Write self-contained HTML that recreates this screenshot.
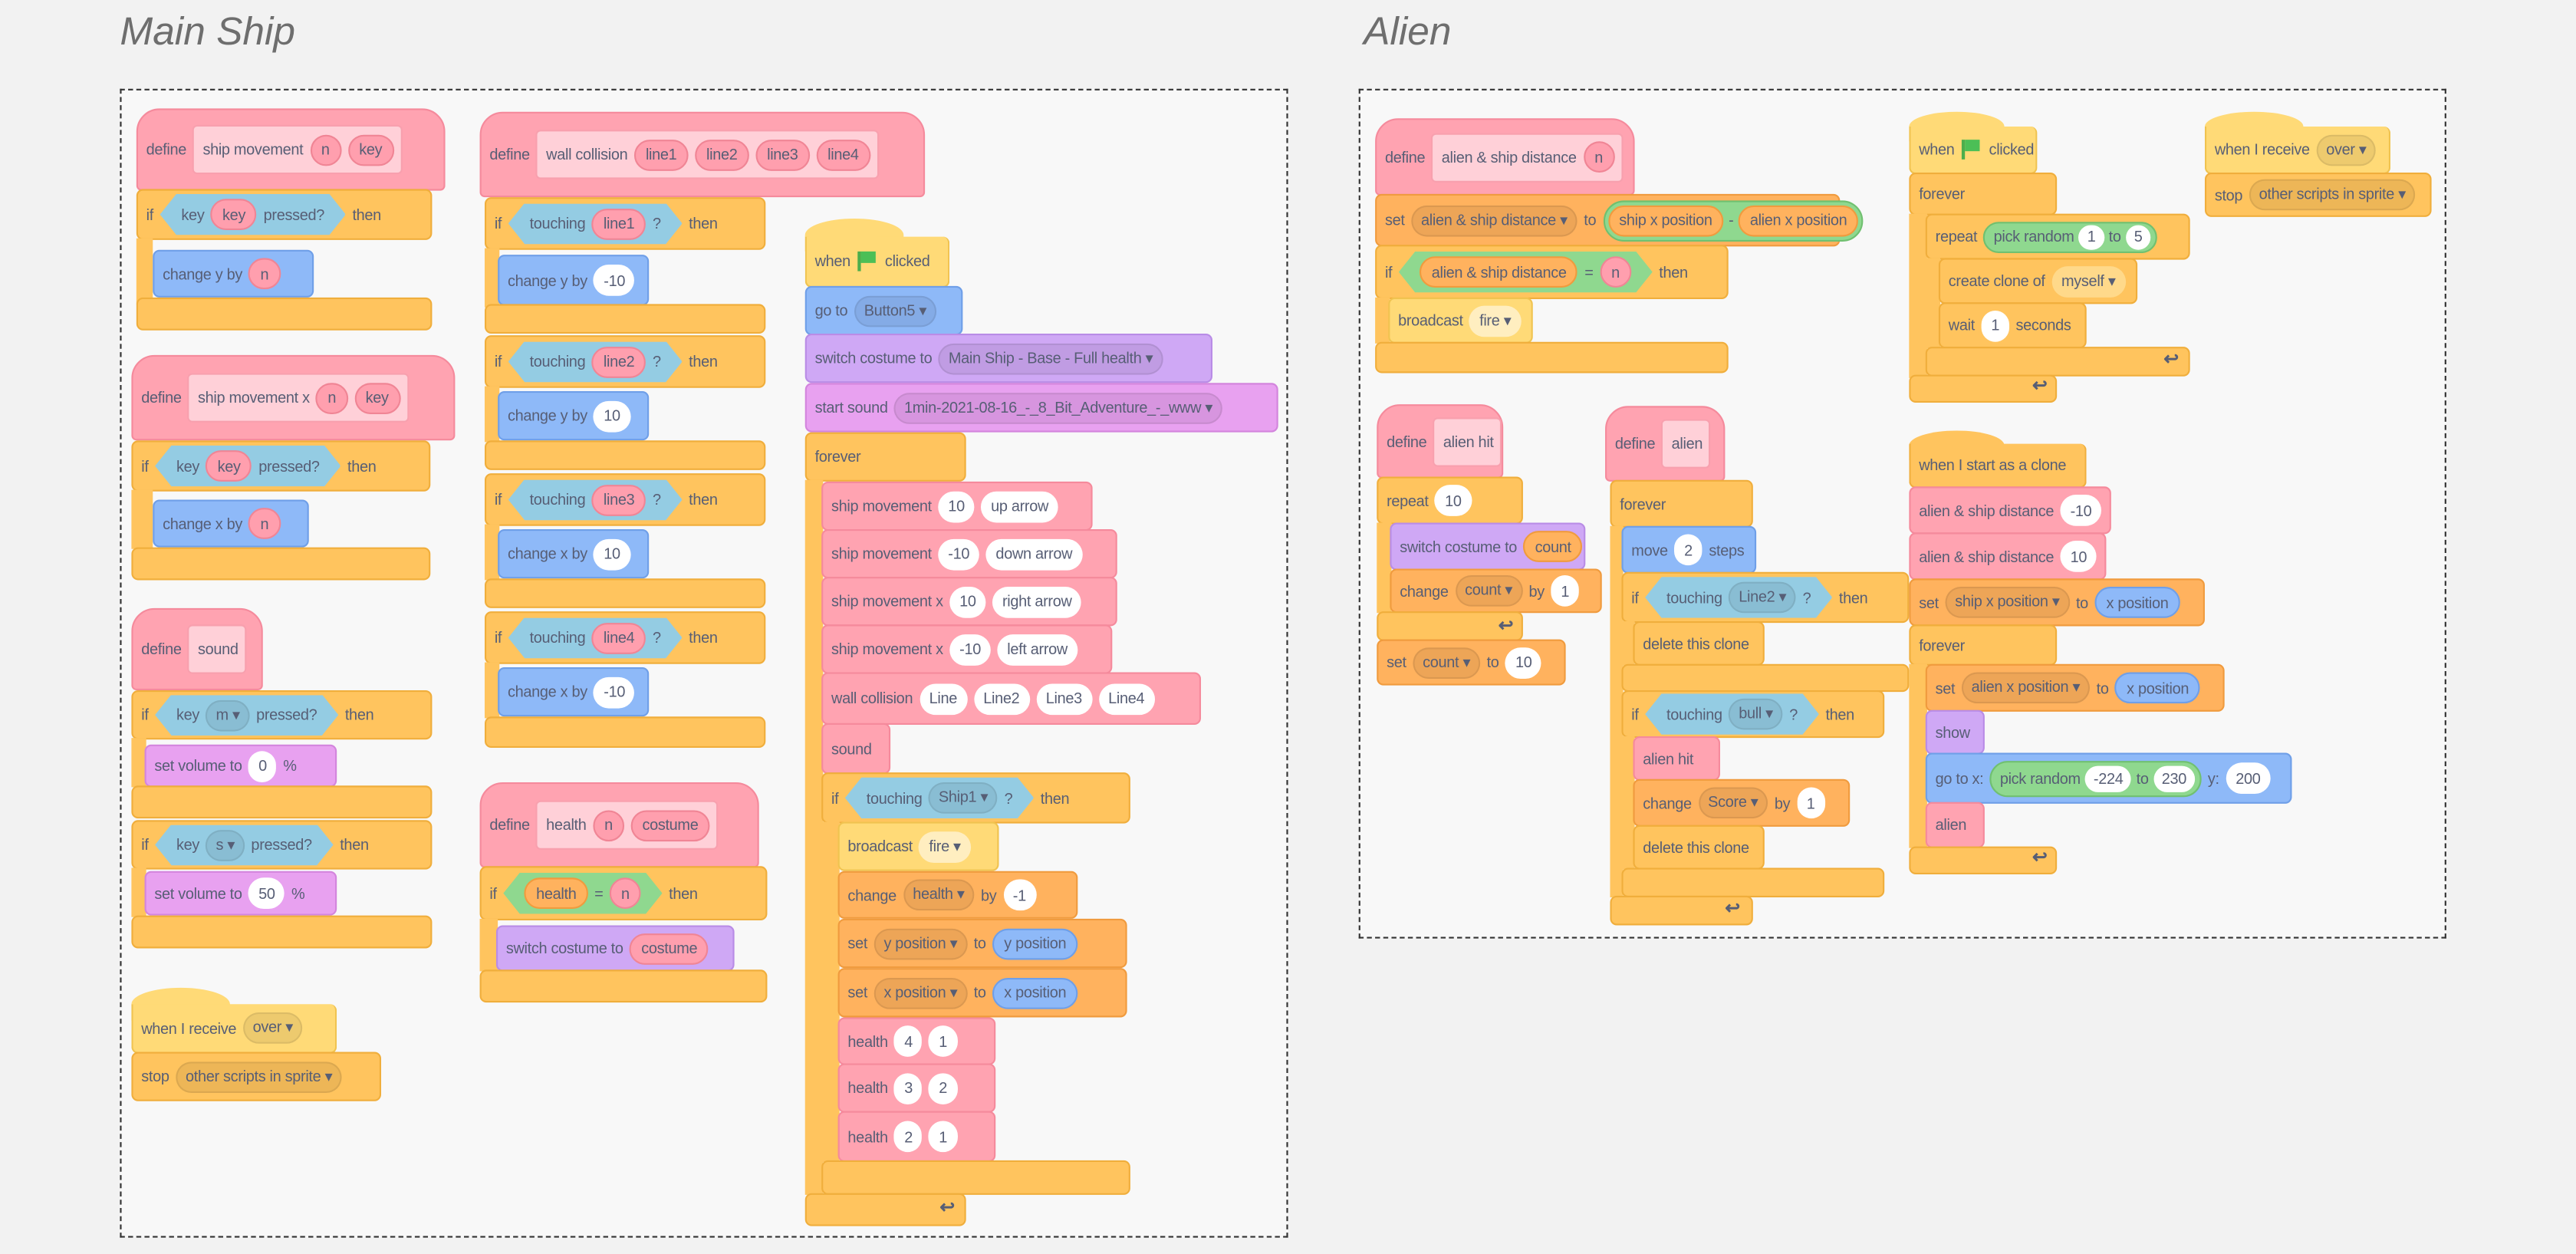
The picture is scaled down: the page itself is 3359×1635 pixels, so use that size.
<!DOCTYPE html>
<html><head><meta charset="utf-8"><style>
html,body{margin:0;padding:0;background:#f2f2f2;}
body{width:3359px;height:1635px;overflow:hidden;position:relative;}
#w{position:absolute;left:0;top:0;width:1568px;height:763px;transform:scale(2.1423,2.1429);transform-origin:0 0;font-family:"Liberation Sans",sans-serif;}
.t{position:absolute;font-style:italic;font-size:24px;color:#6e6e6e;top:6px;}
.box{position:absolute;border:1px dashed #333;background:#f8f8f8;box-sizing:border-box;}
.b{position:absolute;box-sizing:border-box;display:flex;align-items:center;gap:4px;padding-left:5px;font-size:9.3px;letter-spacing:-0.15px;color:#575e75;border-radius:4px;border:1px solid;white-space:nowrap;}
.arm{position:absolute;box-sizing:border-box;}
.p{display:inline-flex;align-items:center;height:19px;border-radius:10px;padding:0 6px;box-sizing:border-box;}
.w{background:#fff;color:#575e75;}
.a{background:#ff9fae;border:1px solid #f08595;}
.d{background:rgba(0,0,0,.07);border:1px solid rgba(0,0,0,.08);padding:0 5px;}
.dv{background:#ffb25e;border:1px solid #f09b3e;}
.ib{display:inline-flex;align-items:center;gap:4px;background:#ffd0d8;border:1px solid #f8a0ae;height:30px;padding:0 4px 0 5px;box-sizing:border-box;border-radius:3px;}
.hx{display:inline-flex;align-items:center;gap:4px;height:25px;padding:0 13px;background:#94cce3;clip-path:polygon(10px 0,calc(100% - 10px) 0,100% 50%,calc(100% - 10px) 100%,10px 100%,0 50%);}
.hg{background:#8fd88f;}
.ctrl{background:#ffc45e;border-color:#f0ae3c;}
.def{background:#ffa3b1;border-color:#f58a9c;border-radius:14px 14px 3px 3px;}
.cus{background:#ffa3b1;border-color:#f58a9c;}
.mot{background:#8eb9f8;border-color:#6f9fe8;}
.lok{background:#cfa8f5;border-color:#b98ce6;}
.snd{background:#e8a1f0;border-color:#d385dd;}
.evt{background:#ffda77;border-color:#f0c350;}
.var{background:#ffb25e;border-color:#f09b3e;}
.cap{position:absolute;border-radius:50% 50% 0 0;}
.ar{position:absolute;font-size:11px;font-weight:bold;color:#575e75;}
.flag{display:inline-block;width:11px;height:12px;border-left:2px solid #4cae4c;position:relative;}
.flag:after{content:"";position:absolute;left:0;top:0;width:9px;height:7px;background:#4cbf56;}
</style></head><body><div id="w">
<div class="t" style="left:73px">Main Ship</div>
<div class="t" style="left:830px">Alien</div>
<div class="box" style="left:73px;top:54px;width:711px;height:699px"></div>
<div class="box" style="left:827px;top:54px;width:662px;height:517px"></div>

<!-- Main col 1 -->
<div class="b def" style="left:83px;top:66px;width:188px;height:50px">define <span class="ib">ship movement <span class="p a">n</span><span class="p a">key</span></span></div>
<div class="b ctrl" style="left:83px;top:115px;width:180px;height:31px">if <span class="hx">key <span class="p a">key</span> pressed?</span> then</div>
<div class="arm ctrl" style="left:83px;top:145px;width:10px;height:40px"></div>
<div class="b mot" style="left:93px;top:152px;width:98px;height:29px">change y by <span class="p a">n</span></div>
<div class="b ctrl" style="left:83px;top:181px;width:180px;height:20px"></div>

<div class="b def" style="left:80px;top:216px;width:197px;height:52px">define <span class="ib">ship movement x <span class="p a">n</span><span class="p a">key</span></span></div>
<div class="b ctrl" style="left:80px;top:268px;width:182px;height:31px">if <span class="hx">key <span class="p a">key</span> pressed?</span> then</div>
<div class="arm ctrl" style="left:80px;top:298px;width:13px;height:36px"></div>
<div class="b mot" style="left:93px;top:304px;width:95px;height:29px">change x by <span class="p a">n</span></div>
<div class="b ctrl" style="left:80px;top:333px;width:182px;height:20px"></div>

<div class="b def" style="left:80px;top:370px;width:80px;height:50px">define <span class="ib">sound</span></div>
<div class="b ctrl" style="left:80px;top:420px;width:183px;height:30px">if <span class="hx">key <span class="p d">m ▾</span> pressed?</span> then</div>
<div class="arm ctrl" style="left:80px;top:449px;width:9px;height:30px"></div>
<div class="b snd" style="left:88px;top:453px;width:117px;height:26px">set volume to <span class="p w">0</span> %</div>
<div class="b ctrl" style="left:80px;top:478px;width:183px;height:20px"></div>
<div class="b ctrl" style="left:80px;top:499px;width:183px;height:30px">if <span class="hx">key <span class="p d">s ▾</span> pressed?</span> then</div>
<div class="arm ctrl" style="left:80px;top:528px;width:9px;height:30px"></div>
<div class="b snd" style="left:88px;top:530px;width:117px;height:27px">set volume to <span class="p w">50</span> %</div>
<div class="b ctrl" style="left:80px;top:557px;width:183px;height:20px"></div>

<div class="cap evt" style="left:80px;top:601px;width:60px;height:20px"></div>
<div class="b evt" style="left:80px;top:611px;width:125px;height:30px;border-top:none;border-radius:0 4px 4px 4px">when I receive <span class="p d">over ▾</span></div>
<div class="b ctrl" style="left:80px;top:640px;width:152px;height:30px">stop <span class="p d">other scripts in sprite ▾</span></div>

<!-- Main col 2 -->
<div class="b def" style="left:292px;top:68px;width:271px;height:52px">define <span class="ib">wall collision <span class="p a">line1</span><span class="p a">line2</span><span class="p a">line3</span><span class="p a">line4</span></span></div>
<div class="b ctrl" style="left:295px;top:120px;width:171px;height:32px">if <span class="hx">touching <span class="p a">line1</span> ?</span> then</div>
<div class="arm ctrl" style="left:295px;top:151px;width:9px;height:36px"></div>
<div class="b mot" style="left:303px;top:155px;width:92px;height:31px">change y by <span class="p w">-10</span></div>
<div class="b ctrl" style="left:295px;top:185px;width:171px;height:18px"></div>
<div class="b ctrl" style="left:295px;top:204px;width:171px;height:32px">if <span class="hx">touching <span class="p a">line2</span> ?</span> then</div>
<div class="arm ctrl" style="left:295px;top:235px;width:9px;height:34px"></div>
<div class="b mot" style="left:303px;top:238px;width:92px;height:30px">change y by <span class="p w">10</span></div>
<div class="b ctrl" style="left:295px;top:268px;width:171px;height:18px"></div>
<div class="b ctrl" style="left:295px;top:288px;width:171px;height:32px">if <span class="hx">touching <span class="p a">line3</span> ?</span> then</div>
<div class="arm ctrl" style="left:295px;top:319px;width:9px;height:34px"></div>
<div class="b mot" style="left:303px;top:322px;width:92px;height:30px">change x by <span class="p w">10</span></div>
<div class="b ctrl" style="left:295px;top:352px;width:171px;height:18px"></div>
<div class="b ctrl" style="left:295px;top:372px;width:171px;height:32px">if <span class="hx">touching <span class="p a">line4</span> ?</span> then</div>
<div class="arm ctrl" style="left:295px;top:403px;width:9px;height:34px"></div>
<div class="b mot" style="left:303px;top:406px;width:92px;height:30px">change x by <span class="p w">-10</span></div>
<div class="b ctrl" style="left:295px;top:436px;width:171px;height:19px"></div>

<div class="b def" style="left:292px;top:476px;width:170px;height:52px">define <span class="ib">health <span class="p a">n</span><span class="p a">costume</span></span></div>
<div class="b ctrl" style="left:292px;top:527px;width:175px;height:33px">if <span class="hx hg"><span class="p dv">health</span> = <span class="p a">n</span></span> then</div>
<div class="arm ctrl" style="left:292px;top:559px;width:11px;height:32px"></div>
<div class="b lok" style="left:302px;top:563px;width:145px;height:28px">switch costume to <span class="p a">costume</span></div>
<div class="b ctrl" style="left:292px;top:590px;width:175px;height:20px"></div>

<!-- Main col 3 -->
<div class="cap evt" style="left:490px;top:133px;width:60px;height:20px"></div>
<div class="b evt" style="left:490px;top:144px;width:88px;height:31px;border-top:none;border-radius:0 4px 4px 4px">when <span class="flag"></span> clicked</div>
<div class="b mot" style="left:490px;top:174px;width:96px;height:30px">go to <span class="p d">Button5 ▾</span></div>
<div class="b lok" style="left:490px;top:203px;width:248px;height:30px">switch costume to <span class="p d">Main Ship - Base - Full health ▾</span></div>
<div class="b snd" style="left:490px;top:233px;width:288px;height:30px">start sound <span class="p d">1min-2021-08-16_-_8_Bit_Adventure_-_www ▾</span></div>
<div class="b ctrl" style="left:490px;top:263px;width:98px;height:30px">forever</div>
<div class="arm ctrl" style="left:490px;top:292px;width:11px;height:435px"></div>
<div class="b cus" style="left:500px;top:293px;width:165px;height:30px">ship movement <span class="p w">10</span><span class="p w">up arrow</span></div>
<div class="b cus" style="left:500px;top:322px;width:180px;height:30px">ship movement <span class="p w">-10</span><span class="p w">down arrow</span></div>
<div class="b cus" style="left:500px;top:351px;width:180px;height:30px">ship movement x <span class="p w">10</span><span class="p w">right arrow</span></div>
<div class="b cus" style="left:500px;top:380px;width:177px;height:30px">ship movement x <span class="p w">-10</span><span class="p w">left arrow</span></div>
<div class="b cus" style="left:500px;top:409px;width:231px;height:32px">wall collision <span class="p w">Line</span><span class="p w">Line2</span><span class="p w">Line3</span><span class="p w">Line4</span></div>
<div class="b cus" style="left:500px;top:440px;width:42px;height:31px">sound</div>
<div class="b ctrl" style="left:500px;top:470px;width:188px;height:31px">if <span class="hx">touching <span class="p d">Ship1 ▾</span> ?</span> then</div>
<div class="arm ctrl" style="left:500px;top:500px;width:11px;height:207px"></div>
<div class="b evt" style="left:510px;top:500px;width:98px;height:30px">broadcast <span class="p" style="background:#ffeec0">fire ▾</span></div>
<div class="b var" style="left:510px;top:530px;width:146px;height:29px">change <span class="p d">health ▾</span> by <span class="p w">-1</span></div>
<div class="b var" style="left:510px;top:559px;width:176px;height:30px">set <span class="p d">y position ▾</span> to <span class="p mot" style="border:1px solid #6f9fe8">y position</span></div>
<div class="b var" style="left:510px;top:589px;width:176px;height:30px">set <span class="p d">x position ▾</span> to <span class="p mot" style="border:1px solid #6f9fe8">x position</span></div>
<div class="b cus" style="left:510px;top:619px;width:96px;height:29px">health <span class="p w">4</span><span class="p w">1</span></div>
<div class="b cus" style="left:510px;top:647px;width:96px;height:30px">health <span class="p w">3</span><span class="p w">2</span></div>
<div class="b cus" style="left:510px;top:676px;width:96px;height:31px">health <span class="p w">2</span><span class="p w">1</span></div>
<div class="b ctrl" style="left:500px;top:706px;width:188px;height:21px"></div>
<div class="b ctrl" style="left:490px;top:726px;width:98px;height:20px"></div>
<div class="ar" style="left:572px;top:728px">↩</div>

<!-- Alien col 1 -->
<div class="b def" style="left:837px;top:72px;width:158px;height:47px">define <span class="ib">alien &amp; ship distance <span class="p a">n</span></span></div>
<div class="b var" style="left:837px;top:118px;width:283px;height:32px">set <span class="p d">alien &amp; ship distance ▾</span> to <span class="p" style="background:#8fd88f;border:1px solid #70c070;height:25px;padding:0 2px;gap:3px;border-radius:13px"><span class="p dv">ship x position</span>-<span class="p dv">alien x position</span></span></div>
<div class="b ctrl" style="left:837px;top:149px;width:215px;height:33px">if <span class="hx hg"><span class="p dv">alien &amp; ship distance</span> = <span class="p a">n</span></span> then</div>
<div class="arm ctrl" style="left:837px;top:181px;width:9px;height:28px"></div>
<div class="b evt" style="left:845px;top:181px;width:88px;height:28px">broadcast <span class="p" style="background:#ffeec0">fire ▾</span></div>
<div class="b ctrl" style="left:837px;top:208px;width:215px;height:19px"></div>

<div class="b def" style="left:838px;top:246px;width:77px;height:45px">define <span class="ib">alien hit</span></div>
<div class="b ctrl" style="left:838px;top:290px;width:89px;height:29px">repeat <span class="p w">10</span></div>
<div class="arm ctrl" style="left:838px;top:318px;width:9px;height:55px"></div>
<div class="b lok" style="left:846px;top:318px;width:119px;height:29px">switch costume to <span class="p dv">count</span></div>
<div class="b var" style="left:846px;top:346px;width:129px;height:27px">change <span class="p d">count ▾</span> by <span class="p w">1</span></div>
<div class="b ctrl" style="left:838px;top:372px;width:89px;height:18px"></div>
<div class="ar" style="left:912px;top:374px">↩</div>
<div class="b var" style="left:838px;top:389px;width:115px;height:28px">set <span class="p d">count ▾</span> to <span class="p w">10</span></div>

<!-- Alien col 2 -->
<div class="b def" style="left:977px;top:247px;width:73px;height:46px">define <span class="ib">alien</span></div>
<div class="b ctrl" style="left:980px;top:292px;width:87px;height:29px">forever</div>
<div class="arm ctrl" style="left:980px;top:320px;width:8px;height:226px"></div>
<div class="b mot" style="left:987px;top:320px;width:82px;height:29px">move <span class="p w">2</span> steps</div>
<div class="b ctrl" style="left:987px;top:348px;width:175px;height:31px">if <span class="hx">touching <span class="p d">Line2 ▾</span> ?</span> then</div>
<div class="arm ctrl" style="left:987px;top:378px;width:8px;height:27px"></div>
<div class="b ctrl" style="left:994px;top:378px;width:80px;height:27px">delete this clone</div>
<div class="b ctrl" style="left:987px;top:404px;width:175px;height:17px"></div>
<div class="b ctrl" style="left:987px;top:420px;width:160px;height:29px">if <span class="hx">touching <span class="p d">bull ▾</span> ?</span> then</div>
<div class="arm ctrl" style="left:987px;top:448px;width:8px;height:81px"></div>
<div class="b cus" style="left:994px;top:448px;width:53px;height:27px">alien hit</div>
<div class="b var" style="left:994px;top:474px;width:132px;height:29px">change <span class="p d">Score ▾</span> by <span class="p w">1</span></div>
<div class="b ctrl" style="left:994px;top:502px;width:80px;height:27px">delete this clone</div>
<div class="b ctrl" style="left:987px;top:528px;width:160px;height:18px"></div>
<div class="b ctrl" style="left:980px;top:545px;width:87px;height:18px"></div>
<div class="ar" style="left:1050px;top:546px">↩</div>

<!-- Alien col 3 -->
<div class="cap evt" style="left:1162px;top:68px;width:58px;height:18px"></div>
<div class="b evt" style="left:1162px;top:77px;width:78px;height:29px;border-top:none;border-radius:0 4px 4px 4px">when <span class="flag"></span> clicked</div>
<div class="b ctrl" style="left:1162px;top:105px;width:90px;height:26px">forever</div>
<div class="arm ctrl" style="left:1162px;top:130px;width:11px;height:100px"></div>
<div class="b ctrl" style="left:1172px;top:130px;width:161px;height:28px">repeat <span class="p" style="background:#8fd88f;border:1px solid #70c070;gap:3px;padding:0 3px 0 5px">pick random <span class="p w" style="height:15px;padding:0 5px">1</span> to <span class="p w" style="height:15px;padding:0 5px">5</span></span></div>
<div class="arm ctrl" style="left:1172px;top:157px;width:9px;height:55px"></div>
<div class="b ctrl" style="left:1180px;top:157px;width:121px;height:28px">create clone of <span class="p" style="background:#ffd98a">myself ▾</span></div>
<div class="b ctrl" style="left:1180px;top:184px;width:90px;height:28px">wait <span class="p w">1</span> seconds</div>
<div class="b ctrl" style="left:1172px;top:211px;width:161px;height:18px"></div>
<div class="ar" style="left:1317px;top:212px">↩</div>
<div class="b ctrl" style="left:1162px;top:228px;width:90px;height:17px"></div>
<div class="ar" style="left:1237px;top:228px">↩</div>

<div class="cap evt" style="left:1342px;top:68px;width:60px;height:18px"></div>
<div class="b evt" style="left:1342px;top:77px;width:113px;height:29px;border-top:none;border-radius:0 4px 4px 4px">when I receive <span class="p d">over ▾</span></div>
<div class="b ctrl" style="left:1342px;top:105px;width:138px;height:27px">stop <span class="p d">other scripts in sprite ▾</span></div>

<div class="cap ctrl" style="left:1162px;top:262px;width:58px;height:18px"></div>
<div class="b ctrl" style="left:1162px;top:270px;width:108px;height:27px;border-top:none;border-radius:0 4px 4px 4px">when I start as a clone</div>
<div class="b cus" style="left:1162px;top:296px;width:123px;height:29px">alien &amp; ship distance <span class="p w">-10</span></div>
<div class="b cus" style="left:1162px;top:324px;width:120px;height:29px">alien &amp; ship distance <span class="p w">10</span></div>
<div class="b var" style="left:1162px;top:352px;width:180px;height:29px">set <span class="p d">ship x position ▾</span> to <span class="p mot" style="border:1px solid #6f9fe8">x position</span></div>
<div class="b ctrl" style="left:1162px;top:380px;width:90px;height:25px">forever</div>
<div class="arm ctrl" style="left:1162px;top:404px;width:11px;height:112px"></div>
<div class="b var" style="left:1172px;top:404px;width:182px;height:29px">set <span class="p d">alien x position ▾</span> to <span class="p mot" style="border:1px solid #6f9fe8">x position</span></div>
<div class="b lok" style="left:1172px;top:432px;width:36px;height:27px">show</div>
<div class="b mot" style="left:1172px;top:458px;width:223px;height:31px">go to x: <span class="p" style="background:#8fd88f;border:1px solid #70c070;gap:3px;padding:0 3px 0 5px;height:22px;border-radius:11px">pick random <span class="p w" style="height:16px;padding:0 5px">-224</span> to <span class="p w" style="height:16px;padding:0 5px">230</span></span> y: <span class="p w">200</span></div>
<div class="b cus" style="left:1172px;top:488px;width:36px;height:28px">alien</div>
<div class="b ctrl" style="left:1162px;top:515px;width:90px;height:17px"></div>
<div class="ar" style="left:1237px;top:515px">↩</div>
</div></body></html>
